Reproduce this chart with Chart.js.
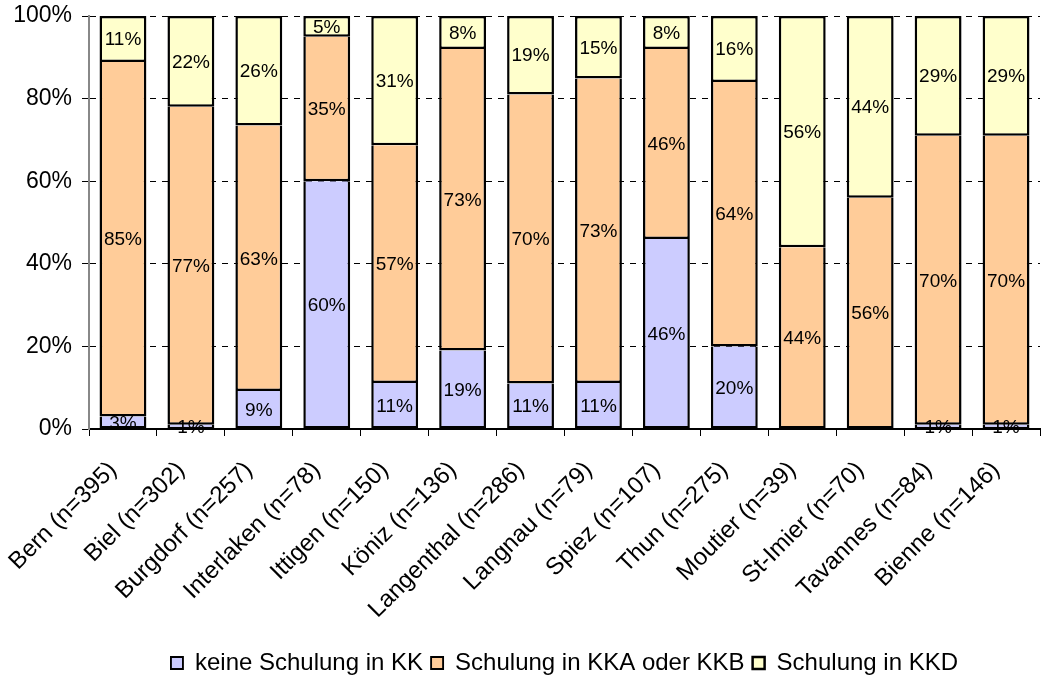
<!DOCTYPE html>
<html>
<head>
<meta charset="utf-8">
<script src="https://cdn.jsdelivr.net/npm/chart.js@4/dist/chart.umd.min.js"></script>
<style>
  html, body { margin: 0; padding: 0; background: #fff; }
  #wrap { width: 1042px; height: 677px; }
</style>
</head>
<body>
<div id="wrap"><canvas id="chart" width="1042" height="677"></canvas></div>
<script>
// categories (x axis)
const categories = ['Bern (n=395)', 'Biel (n=302)', 'Burgdorf (n=257)', 'Interlaken (n=78)',
  'Ittigen (n=150)', 'Köniz (n=136)', 'Langenthal (n=286)', 'Langnau (n=79)', 'Spiez (n=107)',
  'Thun (n=275)', 'Moutier (n=39)', 'St-Imier (n=70)', 'Tavannes (n=84)', 'Bienne (n=146)'];

// shares in percent, as labelled in the bars
const keineSchulung = [3, 1, 9, 60, 11, 19, 11, 11, 46, 20, 0, 0, 1, 1];
const schulungKKAB  = [85, 77, 63, 35, 57, 73, 70, 73, 46, 64, 44, 56, 70, 70];
const schulungKKD   = [11, 22, 26, 5, 31, 8, 19, 15, 8, 16, 56, 44, 29, 29];

const seriesNames = ['keine Schulung in KK', 'Schulung in KKA oder KKB', 'Schulung in KKD'];
const yTicks = [0, 20, 40, 60, 80, 100];

const FONT = "'Liberation Sans', Arial, Helvetica, sans-serif";

// 100% stacked: scale each column to its total (empty segments are left out)
const totals = categories.map((_, i) => keineSchulung[i] + schulungKKAB[i] + schulungKKD[i]);
const norm = arr => arr.map((v, i) => v ? v / totals[i] * 100 : null);

const colors = ['#CCCCFF', '#FFCC99', '#FFFFCC'];
const raw = [keineSchulung, schulungKKAB, schulungKKD];

// upper segments draw the dividing line with their bottom edge, only the top one gets a top edge
const datasets = raw.map((arr, k) => ({
  label: seriesNames[k],
  data: norm(arr),
  raw: arr,
  backgroundColor: colors[k],
  borderColor: '#000',
  borderWidth: { top: k === raw.length - 1 ? 2.5 : 0, left: 2.5, right: 2.5, bottom: 2.5 },
  borderSkipped: false,
  inflateAmount: 0,
  categoryPercentage: 1.0,
  barPercentage: 0.69
}));

// draws the percent labels in the middle of each segment
const segmentLabels = {
  id: 'segmentLabels',
  afterDatasetsDraw(chart) {
    const ctx = chart.ctx;
    ctx.save();
    ctx.font = '19px ' + FONT;
    ctx.fillStyle = '#000';
    ctx.textAlign = 'center';
    ctx.textBaseline = 'middle';
    chart.data.datasets.forEach((ds, k) => {
      const meta = chart.getDatasetMeta(k);
      meta.data.forEach((bar, i) => {
        const v = ds.raw[i];
        if (!v) return;
        ctx.fillText(v + '%', bar.x, (bar.y + bar.base) / 2 + 1);
      });
    });
    ctx.restore();
  }
};

new Chart(document.getElementById('chart'), {
  type: 'bar',
  data: { labels: categories, datasets: datasets },
  plugins: [segmentLabels],
  options: {
    responsive: false,
    animation: false,
    layout: { padding: { top: 16, right: 2, left: 0, bottom: 0 } },
    plugins: {
      tooltip: { enabled: false },
      legend: {
        position: 'bottom',
        fullSize: false,
        maxHeight: 34,
        labels: {
          font: { family: FONT, size: 24 },
          color: '#000',
          boxWidth: 12,
          boxHeight: 12,
          padding: 8
        }
      }
    },
    scales: {
      x: {
        stacked: true,
        grid: { offset: true, drawOnChartArea: false, drawTicks: true, tickLength: 7, color: '#000', lineWidth: 1 },
        border: { color: '#000', width: 2 },
        ticks: {
          autoSkip: false,
          maxRotation: 45,
          minRotation: 45,
          padding: 20,
          labelOffset: -10,
          color: '#000',
          font: { family: FONT, size: 24 }
        },
        afterFit(scale) {
          scale.height = 214;
          scale.paddingLeft = 0;
          scale.paddingRight = 0;
        }
      },
      y: {
        stacked: true,
        min: 0,
        max: 100,
        afterBuildTicks(scale) {
          scale.ticks = yTicks.map(v => ({ value: v }));
        },
        grid: { color: '#000', lineWidth: 1, tickLength: 7, tickColor: '#000', tickBorderDash: [] },
        border: { color: '#888', width: 2, dash: [6, 6] },
        ticks: {
          padding: 10,
          color: '#000',
          font: { family: FONT, size: 23 },
          callback: v => v + '%'
        },
        afterFit(scale) {
          scale.width = 89;
          scale.paddingTop = 0;
          scale.paddingBottom = 0;
        }
      }
    }
  }
});
</script>
</body>
</html>
